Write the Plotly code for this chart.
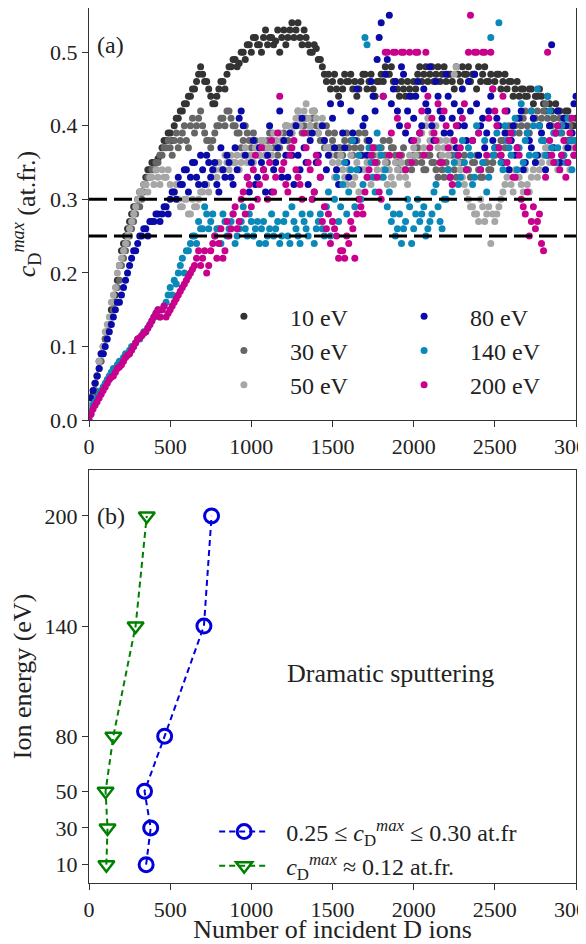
import plotly.graph_objects as go

# ---------------- data: panel (a) ----------------
ions = [0, 25, 50, 75, 100, 125, 150, 175, 200, 225, 250, 275, 300, 325, 350, 375, 400, 425, 450, 475,
        500, 525, 550, 575, 600, 625, 650, 675, 700, 725, 750, 775, 800, 825, 850, 875, 900, 925, 950, 975,
        1000, 1025, 1050, 1075, 1100, 1125, 1150, 1175, 1200, 1225, 1250, 1275, 1300, 1325, 1350, 1375, 1400, 1425, 1450, 1475,
        1500, 1525, 1550, 1575, 1600, 1625, 1650, 1675, 1700, 1725, 1750, 1775, 1800, 1825, 1850, 1875, 1900, 1925, 1950, 1975,
        2000, 2025, 2050, 2075, 2100, 2125, 2150, 2175, 2200, 2225, 2250, 2275, 2300, 2325, 2350, 2375, 2400, 2425, 2450, 2475,
        2500, 2525, 2550, 2575, 2600, 2625, 2650, 2675, 2700, 2725, 2750, 2775, 2800, 2825, 2850, 2875, 2900, 2925, 2950, 2975,
        3000]

ions_mid = [12.5, 37.5, 62.5, 87.5, 112.5, 137.5, 162.5, 187.5, 212.5, 237.5,
            262.5, 287.5, 312.5, 337.5, 362.5, 387.5, 412.5, 437.5, 462.5, 487.5,
            512.5, 537.5, 562.5, 587.5, 612.5, 637.5, 662.5, 687.5, 712.5, 737.5,
            762.5, 787.5, 812.5, 837.5, 862.5, 887.5, 912.5, 937.5, 962.5, 987.5,
            1012.5, 1037.5, 1062.5, 1087.5, 1112.5, 1137.5, 1162.5, 1187.5, 1212.5, 1237.5,
            1262.5, 1287.5, 1312.5, 1337.5, 1362.5, 1387.5, 1412.5, 1437.5, 1462.5, 1487.5,
            1512.5, 1537.5, 1562.5, 1587.5, 1612.5, 1637.5, 1662.5, 1687.5, 1712.5, 1737.5,
            1762.5, 1787.5, 1812.5, 1837.5, 1862.5, 1887.5, 1912.5, 1937.5, 1962.5, 1987.5,
            2012.5, 2037.5, 2062.5, 2087.5, 2112.5, 2137.5, 2162.5, 2187.5, 2212.5, 2237.5,
            2262.5, 2287.5, 2312.5, 2337.5, 2362.5, 2387.5, 2412.5, 2437.5, 2462.5, 2487.5,
            2512.5, 2537.5, 2562.5, 2587.5, 2612.5, 2637.5, 2662.5, 2687.5, 2712.5, 2737.5,
            2762.5, 2787.5, 2812.5, 2837.5, 2862.5, 2887.5, 2912.5, 2937.5, 2962.5, 2987.5]

c_10 = [0.005, 0.035, 0.06, 0.09, 0.11, 0.13, 0.16, 0.19, 0.23, 0.25, 0.27, 0.29, 0.30, 0.31, 0.33, 0.34, 0.35, 0.355, 0.37, 0.38,
        0.39, 0.40, 0.41, 0.42, 0.43, 0.44, 0.45, 0.47, 0.47, 0.46, 0.44, 0.43, 0.45, 0.46, 0.47, 0.48, 0.49, 0.485, 0.50, 0.51,
        0.50, 0.52, 0.51, 0.52, 0.51, 0.52, 0.515, 0.50, 0.53, 0.52, 0.54, 0.53, 0.52, 0.53, 0.51, 0.50, 0.505, 0.49, 0.47, 0.47,
        0.46, 0.45, 0.46, 0.47, 0.46, 0.45, 0.44, 0.46, 0.47, 0.46, 0.45, 0.46, 0.47, 0.48, 0.47, 0.46, 0.45, 0.46, 0.44, 0.45,
        0.46, 0.47, 0.46, 0.48, 0.47, 0.46, 0.48, 0.47, 0.46, 0.47, 0.45, 0.47, 0.48, 0.47, 0.46, 0.47, 0.48, 0.47, 0.46, 0.47,
        0.46, 0.47, 0.46, 0.45, 0.46, 0.45, 0.44, 0.45, 0.44, 0.45, 0.44, 0.45, 0.43, 0.44, 0.42, 0.43, 0.42, 0.41, 0.42, 0.40,
        0.41]
c_10b = [0.02, 0.05, 0.08, 0.10, 0.12, 0.15, 0.17, 0.21, 0.24, 0.26,
         0.28, 0.29, 0.31, 0.32, 0.34, 0.35, 0.34, 0.36, 0.38, 0.39,
         0.38, 0.41, 0.42, 0.43, 0.44, 0.45, 0.46, 0.48, 0.46, 0.45,
         0.43, 0.44, 0.46, 0.45, 0.48, 0.49, 0.48, 0.50, 0.49, 0.51,
         0.52, 0.51, 0.50, 0.53, 0.52, 0.51, 0.53, 0.52, 0.51, 0.53,
         0.52, 0.54, 0.51, 0.52, 0.50, 0.51, 0.49, 0.48, 0.46, 0.45,
         0.47, 0.44, 0.45, 0.46, 0.47, 0.46, 0.45, 0.47, 0.45, 0.47,
         0.44, 0.46, 0.46, 0.47, 0.48, 0.46, 0.44, 0.45, 0.46, 0.44,
         0.45, 0.48, 0.47, 0.46, 0.48, 0.47, 0.46, 0.48, 0.47, 0.46,
         0.48, 0.46, 0.47, 0.48, 0.47, 0.45, 0.46, 0.48, 0.46, 0.45,
         0.47, 0.45, 0.47, 0.46, 0.44, 0.46, 0.45, 0.44, 0.45, 0.43,
         0.44, 0.44, 0.42, 0.43, 0.41, 0.42, 0.40, 0.42, 0.41, 0.40]

c_30 = [0.005, 0.03, 0.06, 0.08, 0.11, 0.13, 0.15, 0.18, 0.21, 0.23, 0.25, 0.27, 0.29, 0.30, 0.32, 0.33, 0.34, 0.35, 0.36, 0.37,
        0.37, 0.38, 0.37, 0.39, 0.38, 0.40, 0.39, 0.41, 0.40, 0.38, 0.37, 0.39, 0.40, 0.41, 0.42, 0.41, 0.40, 0.39, 0.38, 0.39,
        0.37, 0.38, 0.36, 0.37, 0.38, 0.39, 0.38, 0.37, 0.39, 0.38, 0.39, 0.40, 0.41, 0.40, 0.39, 0.41, 0.40, 0.38, 0.37, 0.39,
        0.38, 0.36, 0.37, 0.38, 0.37, 0.36, 0.38, 0.37, 0.39, 0.38, 0.36, 0.35, 0.37, 0.36, 0.38, 0.37, 0.35, 0.36, 0.34, 0.35,
        0.36, 0.37, 0.35, 0.34, 0.36, 0.35, 0.33, 0.34, 0.35, 0.33, 0.34, 0.36, 0.35, 0.34, 0.33, 0.35, 0.34, 0.33, 0.35, 0.34,
        0.36, 0.37, 0.38, 0.39, 0.38, 0.40, 0.39, 0.41, 0.40, 0.42, 0.41, 0.40, 0.42, 0.41, 0.40, 0.39, 0.41, 0.40, 0.38, 0.39,
        0.37]
c_30b = [0.02, 0.04, 0.07, 0.09, 0.12, 0.14, 0.16, 0.19, 0.22, 0.24,
         0.26, 0.28, 0.29, 0.31, 0.33, 0.34, 0.35, 0.36, 0.37, 0.38,
         0.36, 0.39, 0.38, 0.40, 0.37, 0.41, 0.40, 0.42, 0.39, 0.38,
         0.38, 0.40, 0.41, 0.40, 0.42, 0.40, 0.39, 0.37, 0.40, 0.38,
         0.39, 0.37, 0.38, 0.36, 0.39, 0.37, 0.36, 0.38, 0.40, 0.37,
         0.40, 0.42, 0.39, 0.41, 0.40, 0.42, 0.39, 0.38, 0.40, 0.37,
         0.39, 0.37, 0.36, 0.39, 0.38, 0.37, 0.39, 0.36, 0.38, 0.37,
         0.37, 0.36, 0.38, 0.35, 0.37, 0.36, 0.34, 0.37, 0.35, 0.34,
         0.35, 0.36, 0.34, 0.36, 0.35, 0.34, 0.36, 0.33, 0.34, 0.36,
         0.33, 0.35, 0.36, 0.34, 0.35, 0.36, 0.33, 0.35, 0.34, 0.35,
         0.37, 0.38, 0.37, 0.40, 0.39, 0.41, 0.40, 0.42, 0.39, 0.41,
         0.42, 0.41, 0.43, 0.40, 0.41, 0.40, 0.39, 0.38, 0.40, 0.38]

c_50 = [0.005, 0.03, 0.06, 0.09, 0.12, 0.14, 0.17, 0.20, 0.22, 0.24, 0.26, 0.28, 0.30, 0.31, 0.32, 0.33, 0.32, 0.33, 0.34, 0.33,
        0.32, 0.31, 0.30, 0.29, 0.30, 0.28, 0.29, 0.30, 0.31, 0.32, 0.33, 0.34, 0.35, 0.34, 0.35, 0.36, 0.35, 0.34, 0.36, 0.35,
        0.36, 0.37, 0.36, 0.38, 0.37, 0.36, 0.38, 0.39, 0.38, 0.40, 0.39, 0.41, 0.40, 0.42, 0.41, 0.42, 0.41, 0.40, 0.38, 0.37,
        0.35, 0.34, 0.36, 0.33, 0.34, 0.32, 0.35, 0.36, 0.34, 0.33, 0.35, 0.34, 0.33, 0.35, 0.34, 0.32, 0.34, 0.35, 0.33, 0.36,
        0.37, 0.38, 0.39, 0.40, 0.38, 0.39, 0.37, 0.36, 0.38, 0.37, 0.47, 0.35, 0.33, 0.31, 0.29, 0.28, 0.27, 0.29, 0.28, 0.24,
        0.27, 0.29, 0.31, 0.33, 0.32, 0.34, 0.33, 0.31, 0.32, 0.33, 0.35, 0.34, 0.36, 0.37, 0.36, 0.35, 0.34, 0.36, 0.35, 0.37,
        0.36]
c_50b = [0.02, 0.05, 0.08, 0.10, 0.13, 0.16, 0.18, 0.21, 0.23, 0.25,
         0.27, 0.29, 0.31, 0.32, 0.31, 0.33, 0.34, 0.32, 0.33, 0.34,
         0.31, 0.32, 0.29, 0.30, 0.28, 0.30, 0.29, 0.31, 0.32, 0.31,
         0.34, 0.33, 0.34, 0.36, 0.34, 0.35, 0.36, 0.35, 0.37, 0.36,
         0.35, 0.37, 0.38, 0.36, 0.37, 0.39, 0.37, 0.38, 0.40, 0.39,
         0.40, 0.42, 0.41, 0.43, 0.40, 0.42, 0.39, 0.41, 0.37, 0.36,
         0.33, 0.35, 0.34, 0.32, 0.36, 0.33, 0.31, 0.34, 0.35, 0.32,
         0.33, 0.36, 0.34, 0.32, 0.33, 0.35, 0.33, 0.34, 0.32, 0.35,
         0.36, 0.39, 0.37, 0.41, 0.39, 0.40, 0.38, 0.37, 0.36, 0.38,
         0.48, 0.34, 0.32, 0.30, 0.29, 0.28, 0.30, 0.27, 0.29, 0.28,
         0.28, 0.30, 0.32, 0.34, 0.31, 0.33, 0.32, 0.34, 0.31, 0.34,
         0.33, 0.35, 0.37, 0.35, 0.37, 0.34, 0.35, 0.37, 0.34, 0.36]

c_80 = [0.01, 0.04, 0.06, 0.09, 0.10, 0.12, 0.14, 0.16, 0.17, 0.19, 0.21, 0.23, 0.24, 0.25, 0.26, 0.27, 0.27, 0.28, 0.28, 0.29,
        0.30, 0.31, 0.33, 0.32, 0.34, 0.33, 0.35, 0.32, 0.34, 0.36, 0.33, 0.35, 0.31, 0.34, 0.36, 0.33, 0.37, 0.41, 0.40, 0.33,
        0.35, 0.32, 0.37, 0.34, 0.36, 0.31, 0.35, 0.42, 0.38, 0.33, 0.36, 0.40, 0.34, 0.37, 0.32, 0.39, 0.35, 0.33, 0.38, 0.36,
        0.41, 0.34, 0.43, 0.37, 0.33, 0.39, 0.45, 0.36, 0.41, 0.38, 0.44, 0.49, 0.54, 0.47, 0.55, 0.45, 0.42, 0.48, 0.39, 0.44,
        0.41, 0.46, 0.40, 0.43, 0.48, 0.38, 0.44, 0.41, 0.47, 0.39, 0.43, 0.40, 0.45, 0.38, 0.42, 0.47, 0.36, 0.41, 0.39, 0.44,
        0.37, 0.40, 0.35, 0.42, 0.38, 0.36, 0.41, 0.34, 0.39, 0.37, 0.35, 0.40, 0.38, 0.36, 0.51, 0.39, 0.35, 0.41, 0.37, 0.39,
        0.44]
c_80b = [0.03, 0.05, 0.07, 0.09, 0.11, 0.13, 0.15, 0.16, 0.18, 0.20,
         0.22, 0.23, 0.25, 0.26, 0.25, 0.27, 0.28, 0.27, 0.29, 0.28,
         0.31, 0.30, 0.32, 0.34, 0.31, 0.35, 0.33, 0.36, 0.32, 0.35,
         0.34, 0.32, 0.37, 0.33, 0.35, 0.32, 0.34, 0.42, 0.36, 0.31,
         0.38, 0.33, 0.35, 0.31, 0.40, 0.34, 0.37, 0.33, 0.36, 0.39,
         0.32, 0.36, 0.41, 0.35, 0.38, 0.31, 0.36, 0.40, 0.34, 0.43,
         0.37, 0.32, 0.39, 0.35, 0.42, 0.38, 0.34, 0.40, 0.36, 0.46,
         0.42, 0.52, 0.44, 0.49, 0.43, 0.46, 0.40, 0.47, 0.42, 0.38,
         0.44, 0.39, 0.45, 0.42, 0.40, 0.46, 0.42, 0.39, 0.44, 0.41,
         0.37, 0.42, 0.40, 0.46, 0.38, 0.43, 0.40, 0.37, 0.42, 0.38,
         0.41, 0.36, 0.39, 0.34, 0.40, 0.37, 0.42, 0.35, 0.38, 0.41,
         0.36, 0.39, 0.34, 0.40, 0.37, 0.42, 0.36, 0.40, 0.38, 0.43]

c_140 = [0.0, 0.02, 0.03, 0.04, 0.05, 0.06, 0.07, 0.075, 0.08, 0.09, 0.095, 0.10, 0.11, 0.115, 0.12, 0.13, 0.14, 0.15, 0.15, 0.16,
         0.18, 0.19, 0.20, 0.22, 0.23, 0.24, 0.25, 0.27, 0.26, 0.28, 0.27, 0.25, 0.26, 0.28, 0.25, 0.27, 0.24, 0.26, 0.29, 0.25,
         0.27, 0.26, 0.24, 0.27, 0.25, 0.28, 0.26, 0.24, 0.27, 0.25, 0.29, 0.26, 0.24, 0.27, 0.25, 0.30, 0.26, 0.28, 0.25, 0.31,
         0.27, 0.33, 0.29, 0.35, 0.31, 0.38, 0.34, 0.30, 0.52, 0.37, 0.33, 0.39, 0.36, 0.34, 0.31, 0.28, 0.26, 0.24, 0.27, 0.29,
         0.26, 0.30, 0.28, 0.25, 0.27, 0.31, 0.29, 0.26, 0.30, 0.33, 0.35, 0.32, 0.38, 0.34, 0.36, 0.33, 0.39, 0.35, 0.31, 0.52,
         0.37, 0.54, 0.34, 0.38, 0.36, 0.41, 0.37, 0.35, 0.39, 0.42, 0.36, 0.40, 0.38, 0.44, 0.37, 0.35, 0.39, 0.36, 0.41, 0.34,
         0.38]
c_140b = [0.01, 0.025, 0.035, 0.045, 0.055, 0.065, 0.07, 0.08, 0.085, 0.09,
          0.10, 0.105, 0.11, 0.12, 0.125, 0.135, 0.145, 0.14, 0.155, 0.17,
          0.17, 0.185, 0.21, 0.20, 0.23, 0.25, 0.24, 0.26, 0.29, 0.26,
          0.28, 0.26, 0.24, 0.27, 0.26, 0.28, 0.25, 0.27, 0.26, 0.28,
          0.25, 0.27, 0.26, 0.24, 0.26, 0.25, 0.27, 0.25, 0.28, 0.24,
          0.27, 0.25, 0.28, 0.26, 0.28, 0.24, 0.27, 0.26, 0.29, 0.25,
          0.30, 0.27, 0.32, 0.28, 0.34, 0.29, 0.36, 0.32, 0.51, 0.35,
          0.31, 0.37, 0.33, 0.29, 0.27, 0.25, 0.28, 0.26, 0.30, 0.24,
          0.28, 0.27, 0.29, 0.26, 0.28, 0.32, 0.27, 0.30, 0.34, 0.31,
          0.36, 0.33, 0.35, 0.37, 0.32, 0.40, 0.34, 0.38, 0.33, 0.36,
          0.39, 0.35, 0.40, 0.37, 0.39, 0.34, 0.43, 0.38, 0.36, 0.40,
          0.45, 0.38, 0.36, 0.42, 0.39, 0.37, 0.40, 0.35, 0.38, 0.36]

c_200 = [0.0, 0.015, 0.025, 0.035, 0.045, 0.055, 0.06, 0.07, 0.075, 0.085, 0.09, 0.10, 0.11, 0.115, 0.12, 0.13, 0.14, 0.15, 0.15, 0.14,
         0.15, 0.16, 0.17, 0.18, 0.19, 0.20, 0.21, 0.23, 0.22, 0.20, 0.23, 0.25, 0.24, 0.22, 0.27, 0.26, 0.29, 0.27, 0.31, 0.33,
         0.29, 0.36, 0.32, 0.34, 0.30, 0.38, 0.33, 0.44, 0.35, 0.31, 0.37, 0.34, 0.32, 0.39, 0.35, 0.30, 0.36, 0.33, 0.29, 0.28,
         0.27, 0.25, 0.23, 0.22, 0.24, 0.26, 0.28, 0.29, 0.31, 0.34, 0.37, 0.33, 0.30, 0.50, 0.36, 0.50, 0.41, 0.50, 0.34, 0.50,
         0.38, 0.50, 0.42, 0.50, 0.37, 0.39, 0.43, 0.35, 0.40, 0.33, 0.38, 0.36, 0.41, 0.34, 0.55, 0.50, 0.39, 0.50, 0.36, 0.50,
         0.42, 0.37, 0.44, 0.35, 0.39, 0.33, 0.36, 0.29, 0.31, 0.27, 0.26, 0.28, 0.23, 0.50, 0.36, 0.39, 0.34, 0.38, 0.35, 0.41,
         0.37]
c_200b = [0.008, 0.02, 0.03, 0.04, 0.05, 0.058, 0.065, 0.072, 0.08, 0.088,
          0.095, 0.105, 0.112, 0.118, 0.125, 0.135, 0.145, 0.14, 0.155, 0.145,
          0.155, 0.165, 0.175, 0.185, 0.195, 0.205, 0.22, 0.21, 0.23, 0.21,
          0.24, 0.22, 0.26, 0.23, 0.25, 0.28, 0.26, 0.30, 0.28, 0.32,
          0.34, 0.30, 0.37, 0.33, 0.35, 0.31, 0.39, 0.34, 0.32, 0.36,
          0.38, 0.33, 0.30, 0.37, 0.34, 0.31, 0.35, 0.27, 0.26, 0.24,
          0.26, 0.22, 0.23, 0.25, 0.27, 0.22, 0.30, 0.28, 0.33, 0.36,
          0.35, 0.31, 0.44, 0.50, 0.39, 0.50, 0.36, 0.50, 0.40, 0.35,
          0.50, 0.39, 0.36, 0.44, 0.41, 0.38, 0.35, 0.42, 0.37, 0.32,
          0.40, 0.37, 0.43, 0.50, 0.38, 0.50, 0.34, 0.50, 0.41, 0.45,
          0.40, 0.36, 0.42, 0.38, 0.33, 0.37, 0.30, 0.28, 0.25, 0.29,
          0.27, 0.24, 0.33, 0.38, 0.35, 0.40, 0.36, 0.33, 0.39, 0.36]

energies = ["10 eV", "30 eV", "50 eV", "80 eV", "140 eV", "200 eV"]
series = [(c_10, c_10b), (c_30, c_30b), (c_50, c_50b), (c_80, c_80b), (c_140, c_140b), (c_200, c_200b)]
colors = ["#333333", "#666666", "#a6a6a6", "#0a0aa8", "#0a89b8", "#c8008c"]
thresholds = [0.30, 0.25]

# ---------------- data: panel (b) ----------------
ion_energy = [10, 30, 50, 80, 140, 200]
n_range = [352, 380, 342, 466, 708, 755]
n_012 = [107, 114, 102, 150, 287, 356]
x_ticks = [0, 500, 1000, 1500, 2000, 2500, 3000]

FONT = "Liberation Serif"
TXT = "#222222"
CMAX = "<i>c</i><sub>D</sub><sup><i>max</i></sup>"
PAD = "\u00a0\u00a0\u00a0\u00a0\u200a"

fig = go.Figure()

legend_of = ["legend", "legend", "legend", "legend3", "legend3", "legend3"]
for name, (ya, yb), col, lg in zip(energies, series, colors, legend_of):
    fig.add_trace(go.Scatter(
        x=ions + ions_mid, y=ya + yb, mode="markers", name=PAD + name,
        marker=dict(size=7, color=col, line=dict(width=0)),
        xaxis="x", yaxis="y", legend=lg, legendgroup=name,
    ))

fig.add_trace(go.Scatter(
    x=n_range, y=ion_energy, mode="lines+markers",
    name="\u00a0\u00a00.25 \u2264 " + CMAX + " \u2264 0.30 at.fr",
    line=dict(color="#0000dd", width=2, dash="6px,4px"),
    marker=dict(symbol="circle-open", size=14, color="#0000dd", line=dict(width=3)),
    xaxis="x2", yaxis="y2", legend="legend2", legendgroup="a",
))
fig.add_trace(go.Scatter(
    x=n_012, y=ion_energy, mode="lines+markers",
    name="\u00a0\u00a0" + CMAX + " \u2248 0.12 at.fr.",
    line=dict(color="#008000", width=2, dash="6px,4px"),
    marker=dict(symbol="triangle-down-open", size=14, color="#008000", line=dict(width=2.5)),
    xaxis="x2", yaxis="y2", legend="legend2", legendgroup="b",
))

for t in thresholds:
    fig.add_shape(type="line", xref="x domain", yref="y", x0=0, x1=1, y0=t, y1=t,
                  line=dict(color="black", width=3, dash="18px,7px"), layer="above")

axis_common = dict(showline=True, linecolor="#333333", linewidth=1.3, mirror=True,
                   ticks="outside", ticklen=6, tickwidth=1.2, tickcolor="#333333",
                   showgrid=False, zeroline=False, automargin=False,
                   ticklabeloverflow="allow",
                   tickfont=dict(family=FONT, size=22, color=TXT))

legend_common = dict(bgcolor="rgba(0,0,0,0)", borderwidth=0, tracegroupgap=0,
                     font=dict(family=FONT, size=24, color=TXT),
                     orientation="v", xanchor="left", yanchor="top",
                     xref="paper", yref="paper")

TITLE_FONT = dict(family=FONT, size=26, color=TXT)

# the page body adds an 8 px offset, so the figure is 8 px smaller on each side
fig.update_layout(
    width=578, height=936,
    margin=dict(l=81, r=10, t=0, b=61, autoexpand=False),
    paper_bgcolor="white", plot_bgcolor="white",
    font=dict(family=FONT, size=22, color=TXT),
    xaxis=dict(domain=[0, 1], range=[0, 3000], anchor="y", tickvals=x_ticks, **axis_common),
    yaxis=dict(domain=[0.5291, 1], range=[0, 0.56], anchor="x", tickvals=[0, 0.1, 0.2, 0.3, 0.4, 0.5],
               tickformat=".1f",
               title=dict(text=CMAX + " (at.fr.)", font=TITLE_FONT, standoff=6), **axis_common),
    xaxis2=dict(domain=[0, 1], range=[0, 3000], anchor="y2", tickvals=x_ticks,
                title=dict(text="Number of incident D ions", font=TITLE_FONT, standoff=6), **axis_common),
    yaxis2=dict(domain=[0, 0.472], range=[0, 225], anchor="x2", tickvals=ion_energy,
                title=dict(text="Ion energy (eV)", font=TITLE_FONT, standoff=6), **axis_common),
    legend=dict(x=0.277, y=0.673, **legend_common),
    legend3=dict(x=0.647, y=0.673, **legend_common),
    legend2=dict(x=0.257, y=0.084, itemwidth=50, **legend_common),
    showlegend=True,
)

fig.add_annotation(text="(a)", xref="x domain", yref="y domain", x=0.012, y=0.91,
                   xanchor="left", yanchor="middle", showarrow=False, font=dict(family=FONT, size=24, color=TXT))
fig.add_annotation(text="(b)", xref="x2 domain", yref="y2 domain", x=0.012, y=0.889,
                   xanchor="left", yanchor="middle", showarrow=False, font=dict(family=FONT, size=24, color=TXT))
fig.add_annotation(text="Dramatic sputtering", xref="x2", yref="y2", x=1860, y=114,
                   xanchor="center", yanchor="middle", showarrow=False, font=dict(family=FONT, size=26, color=TXT))

fig.write_html("out.html")
